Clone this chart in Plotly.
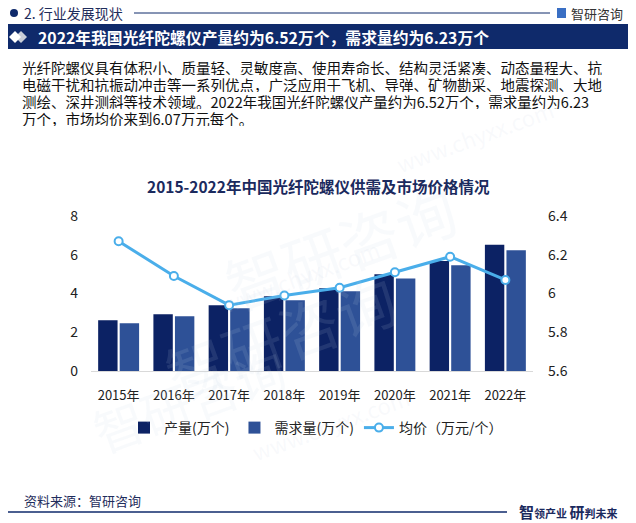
import plotly.graph_objects as go

years = ["2015年", "2016年", "2017年", "2018年", "2019年", "2020年", "2021年", "2022年"]
production = [2.62, 2.93, 3.39, 3.86, 4.27, 4.99, 5.68, 6.52]
demand = [2.46, 2.82, 3.24, 3.65, 4.11, 4.78, 5.46, 6.23]
price = [6.27, 6.09, 5.94, 5.99, 6.03, 6.11, 6.19, 6.07]

W, H = 636, 523
L, R, T, B = 91, 533, 216, 371
FONT = "Noto Sans CJK SC"
NAVY = "#0f2a6b"


def px(x):
    return (x - L) / (R - L)


def py(y):
    return (B - y) / (B - T)


fig = go.Figure()
fig.add_trace(go.Bar(x=years, y=production, name="产量(万个)", marker_color="#0c2264",
                     marker_line_width=0))
fig.add_trace(go.Bar(x=years, y=demand, name="需求量(万个)", marker_color="#2e5197",
                     marker_line_width=0))
fig.add_trace(go.Scatter(x=years, y=price, name="均价（万元/个）", yaxis="y2",
                         mode="lines+markers",
                         line=dict(color="#4aaeea", width=3),
                         marker=dict(size=8, color="white",
                                     line=dict(color="#4aaeea", width=2))))

shapes = []
annotations = []

# watermark
for (x, y, t, s) in [(150, 250, "智研咨询", 60), (470, 330, "智研咨询", 60),
                     (300, 230, "www.chyxx.com", 22), (330, 470, "www.chyxx.com", 22),
                     (80, 470, "智研咨询", 50), (560, 90, "www.chyxx.com", 22)]:
    annotations.append(dict(xref="paper", yref="paper", x=px(x), y=py(y), text=t,
                            showarrow=False, textangle=-20,
                            font=dict(size=s, color="rgba(200,212,230,0.12)", family=FONT)))

# header
shapes.append(dict(type="circle", xref="paper", yref="paper", x0=px(10), x1=px(18),
                   y0=py(17), y1=py(9), fillcolor=NAVY, line_width=0))
annotations.append(dict(xref="paper", yref="paper", x=px(22), y=py(13), xanchor="left",
                        yanchor="middle", text="2. 行业发展现状", showarrow=False,
                        font=dict(size=14, color="#1f2d5c", family=FONT)))
shapes.append(dict(type="line", xref="paper", yref="paper", x0=px(134), x1=px(550),
                   y0=py(13), y1=py(13), line=dict(color=NAVY, width=1)))
shapes.append(dict(type="rect", xref="paper", yref="paper", x0=px(557), x1=px(566),
                   y0=py(18), y1=py(8), fillcolor="#3a6fc4", line_width=0))
annotations.append(dict(xref="paper", yref="paper", x=px(569), y=py(13), xanchor="left",
                        yanchor="middle", text="智研咨询", showarrow=False,
                        font=dict(size=13, color="#333333", family=FONT)))

# banner
shapes.append(dict(type="rect", xref="paper", yref="paper", x0=px(8), x1=px(628),
                   y0=py(49), y1=py(24), fillcolor=NAVY, line_width=0))
shapes.append(dict(type="path", xref="paper", yref="paper",
                   path=f"M {px(21)},{py(31)} L {px(27)},{py(37)} L {px(21)},{py(43)} L {px(15)},{py(37)} Z",
                   fillcolor="#c9ced8", line_width=0))
shapes.append(dict(type="path", xref="paper", yref="paper",
                   path=f"M {px(15)},{py(31)} L {px(21)},{py(37)} L {px(15)},{py(43)} L {px(9)},{py(37)} Z",
                   fillcolor="white", line_width=0))
annotations.append(dict(xref="paper", yref="paper", x=px(36), y=py(37), xanchor="left",
                        yanchor="middle",
                        text="<b>2022年我国光纤陀螺仪产量约为6.52万个，需求量约为6.23万个</b>",
                        showarrow=False, font=dict(size=15.8, color="white", family=FONT)))

# paragraph
lines = [
    "光纤陀螺仪具有体积小、质量轻、灵敏度高、使用寿命长、结构灵活紧凑、动态量程大、抗",
    "电磁干扰和抗振动冲击等一系列优点，广泛应用于飞机、导弹、矿物勘采、地震探测、大地",
    "测绘、深井测斜等技术领域。2022年我国光纤陀螺仪产量约为6.52万个，需求量约为6.23",
    "万个，市场均价来到6.07万元每个。",
]
for i, t in enumerate(lines):
    annotations.append(dict(xref="paper", yref="paper", x=px(20), y=py(67 + 17 * i),
                            xanchor="left", yanchor="middle", text=t, showarrow=False,
                            height=16, valign="middle",
                            font=dict(size=14.5, color="#111111", family=FONT)))

# chart title
annotations.append(dict(xref="paper", yref="paper", x=px(318), y=py(186), xanchor="center",
                        yanchor="middle", text="<b>2015-2022年中国光纤陀螺仪供需及市场价格情况</b>",
                        showarrow=False, font=dict(size=15.5, color="#1b2a5e", family=FONT)))

# footer
annotations.append(dict(xref="paper", yref="paper", x=px(22), y=py(500), xanchor="left",
                        yanchor="middle", text="资料来源：智研咨询", showarrow=False,
                        font=dict(size=13, color="#1f2d5c", family=FONT)))
shapes.append(dict(type="line", xref="paper", yref="paper", x0=px(8), x1=px(507),
                   y0=py(512), y1=py(512), line=dict(color=NAVY, width=1.5)))
annotations.append(dict(xref="paper", yref="paper", x=px(620), y=py(511), xanchor="right",
                        yanchor="middle",
                        text="<b><span style='font-size:15px'>智</span>领产业 <span style='font-size:15px'>研</span>判未来</b>",
                        showarrow=False, font=dict(size=11, color="#1b2a5e", family=FONT)))

fig.update_layout(
    width=W, height=H,
    margin=dict(l=L, r=W - R, t=T, b=H - B, pad=0, autoexpand=False),
    paper_bgcolor="white", plot_bgcolor="white",
    font=dict(family=FONT, size=13, color="#222222"),
    barmode="group", bargap=0.22, bargroupgap=0.1,
    showlegend=True,
    legend=dict(orientation="h", xref="container", yref="container",
                x=316 / W, xanchor="center", y=1 - 428 / H, yanchor="middle",
                font=dict(size=14, color="#222222", family=FONT), itemwidth=30,
                traceorder="normal"),
    xaxis=dict(showgrid=False, showline=True, linecolor="#d9d9d9", linewidth=1,
               ticks="", tickfont=dict(size=13, color="#222222"), automargin=False,
               ticklabelstandoff=12),
    yaxis=dict(range=[0, 8], dtick=2, showgrid=False, zeroline=False, ticks="",
               tickfont=dict(size=14, color="#222222"), ticklabelstandoff=12,
               automargin=False),
    yaxis2=dict(range=[5.6, 6.4], dtick=0.2, overlaying="y", side="right", showgrid=False,
                zeroline=False, ticks="", tickfont=dict(size=14, color="#222222"),
                ticklabelstandoff=14, automargin=False),
    shapes=shapes, annotations=annotations,
)

fig.write_html("out.html", config={"displayModeBar": False},
               post_script="document.body.style.margin='0px';")
